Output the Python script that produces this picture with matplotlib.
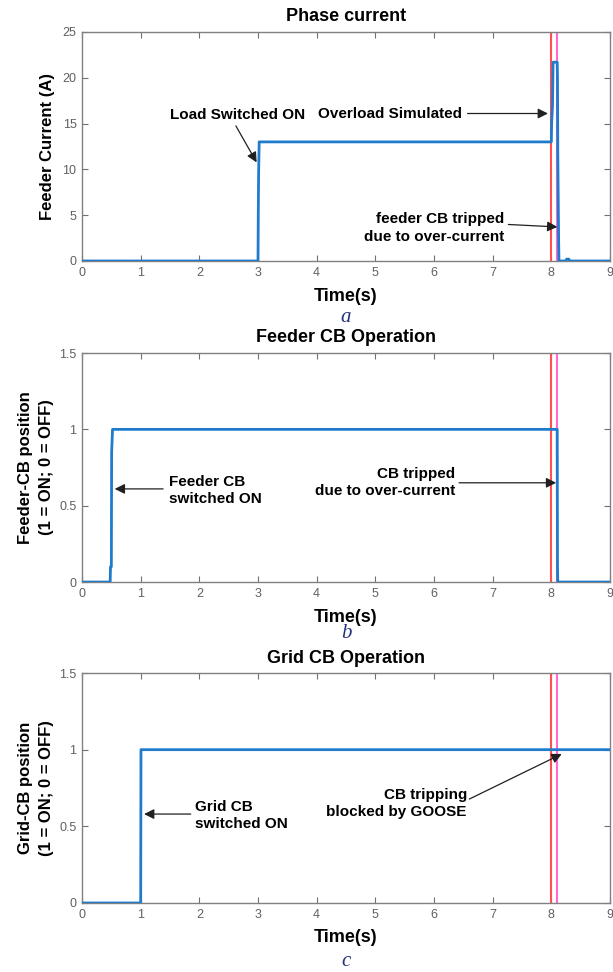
import numpy as np
import matplotlib.pyplot as plt

plt.rcParams['font.family'] = ['Liberation Sans', 'DejaVu Sans']

# panel a - phase current
t_a = [0, 3.00, 3.005, 3.01, 3.02, 8.00, 8.005, 8.02, 8.03, 8.10, 8.105, 8.11, 8.12, 8.125, 8.13, 8.25, 8.26, 8.30, 8.31, 9.0]
i_a = [0, 0, 5.5, 9.5, 13, 13, 15, 17, 21.7, 21.7, 20, 12, 5, 2, 0, 0, 0.2, 0.2, 0, 0]

# panel b - feeder CB
t_b = [0, 0.48, 0.485, 0.50, 0.505, 0.52, 8.10, 8.105, 8.11, 9.0]
v_b = [0, 0, 0.1, 0.1, 0.85, 1, 1, 0.1, 0, 0]

# panel c - grid CB
t_c = [0, 1.0, 1.005, 9.0]
v_c = [0, 0, 1, 1]

overload_t = 8.0
trip_t = 8.1

blue = '#1f7bcc'
red = '#ff5050'
magenta = '#ff6ad5'
tickgrey = '#606060'

fig = plt.figure(figsize=(6.13, 9.72), dpi=100)
ax_a = fig.add_axes([0.1338, 0.7315, 0.8613, 0.2356])
ax_b = fig.add_axes([0.1338, 0.4012, 0.8613, 0.2356])
ax_c = fig.add_axes([0.1338, 0.0710, 0.8613, 0.2366])


def style(ax, ymax, yticks, title, ylab, ylab_x, title_y, xl_y, letter, letter_y):
    ax.set_xlim(0, 9)
    ax.set_ylim(0, ymax)
    ax.set_xticks(range(10))
    ax.set_yticks(yticks)
    ax.set_yticklabels([('%g' % v) for v in yticks])
    ax.tick_params(direction='in', length=4, width=0.8, colors='#707070',
                   labelcolor=tickgrey, labelsize=9, top=True, right=True, pad=4)
    for s in ax.spines.values():
        s.set_color('#808080')
        s.set_linewidth(1.0)
    ax.axvline(overload_t, color=red, lw=1.5, zorder=2)
    ax.axvline(trip_t, color=magenta, lw=1.5, zorder=2)
    ax.text(0.5, title_y, title, transform=ax.transAxes, ha='center', va='center',
            fontsize=13, fontweight='bold')
    ax.text(0.5, xl_y, 'Time(s)', transform=ax.transAxes, ha='center', va='center',
            fontsize=13, fontweight='bold')
    ax.text(0.5, letter_y, letter, transform=ax.transAxes, ha='center', va='center',
            fontsize=15, style='italic', family='Liberation Serif', color='#23327a')
    ax.set_ylabel(ylab, fontsize=12, fontweight='bold', linespacing=1.5)
    ax.yaxis.set_label_coords(ylab_x, 0.5)


arrow = dict(arrowstyle='-|>', color='#202020', lw=0.9, mutation_scale=15)
ann_font = dict(fontsize=11, fontweight='bold')

# a
ax_a.plot(t_a, i_a, color=blue, lw=2, zorder=3)
style(ax_a, 25, [0, 5, 10, 15, 20, 25], 'Phase current', 'Feeder Current (A)',
      -0.051, 1.066, -0.157, 'a', -0.245)
ax_a.text(2.65, 15.9, 'Load Switched ON', ha='center', va='center', **ann_font)
ax_a.annotate('', xy=(3.0, 10.5), xytext=(2.6, 15.0), arrowprops=arrow)
ax_a.annotate('Overload Simulated', xy=(7.99, 16.1), xytext=(5.25, 16.1),
              ha='center', va='center', arrowprops=arrow, **ann_font)
ax_a.text(7.2, 3.6, 'feeder CB tripped\ndue to over-current', ha='right', va='center',
          multialignment='right', linespacing=1.3, **ann_font)
ax_a.annotate('', xy=(8.15, 3.7), xytext=(7.22, 4.0), arrowprops=arrow)

# b
ax_b.plot(t_b, v_b, color=blue, lw=2, zorder=3)
style(ax_b, 1.5, [0, 0.5, 1, 1.5], 'Feeder CB Operation',
      'Feeder-CB position\n(1 = ON; 0 = OFF)', -0.053, 1.066, -0.153, 'b', -0.225)
ax_b.text(1.48, 0.60, 'Feeder CB\nswitched ON', ha='left', va='center',
          linespacing=1.3, **ann_font)
ax_b.annotate('', xy=(0.51, 0.61), xytext=(1.43, 0.61), arrowprops=arrow)
ax_b.text(6.36, 0.65, 'CB tripped\ndue to over-current', ha='right', va='center',
          multialignment='right', linespacing=1.3, **ann_font)
ax_b.annotate('', xy=(8.13, 0.65), xytext=(6.38, 0.65), arrowprops=arrow)

# c
ax_c.plot(t_c, v_c, color=blue, lw=2, zorder=3)
style(ax_c, 1.5, [0, 0.5, 1, 1.5], 'Grid CB Operation',
      'Grid-CB position\n(1 = ON; 0 = OFF)', -0.053, 1.061, -0.148, 'c', -0.255)
ax_c.text(1.92, 0.57, 'Grid CB\nswitched ON', ha='left', va='center',
          linespacing=1.3, **ann_font)
ax_c.annotate('', xy=(1.01, 0.58), xytext=(1.9, 0.58), arrowprops=arrow)
ax_c.text(6.56, 0.65, 'CB tripping\nblocked by GOOSE', ha='right', va='center',
          multialignment='right', linespacing=1.3, **ann_font)
ax_c.annotate('', xy=(8.22, 0.98), xytext=(6.56, 0.67), arrowprops=arrow)

fig.savefig('out.png', dpi=100)
